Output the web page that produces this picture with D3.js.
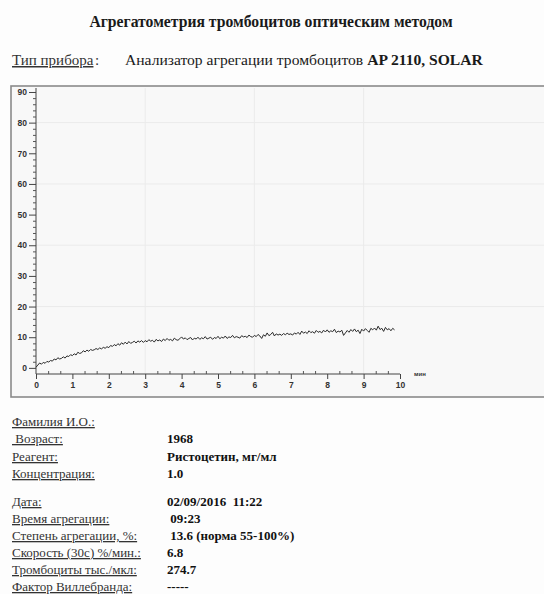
<!DOCTYPE html>
<html>
<head>
<meta charset="utf-8">
<script src="https://cdn.jsdelivr.net/npm/d3@7"></script>
<style>
  body { margin: 0; background: #fdfdfd; }
  svg { display: block; }
  .serif { font-family: "Liberation Serif", "DejaVu Serif", serif; }
  .tick-label { font-family: "Liberation Sans", Arial, sans-serif; font-weight: bold; font-size: 8.5px; fill: #333; }
</style>
</head>
<body>
<div id="chart"></div>
<script>
// 1: DATA
// aggregation curve, one sample every 0.05 min (3 s)
const sampleStep = 0.05;
const aggregation = [
  0.2, 0.9, 1.6, 1.2, 1.8, 1.5, 2.1, 1.9, 2.4, 2.2, 2.9, 2.6, 3.3, 2.9, 3.1, 3.6, 3.2, 3.9, 3.7, 4.3,
  4.0, 4.6, 4.2, 5.1, 4.7, 4.9, 5.6, 5.2, 5.8, 5.4, 6.0, 5.7, 5.9, 6.3, 6.0, 6.5, 6.2, 6.7, 6.4, 6.9,
  6.6, 7.3, 7.0, 7.6, 7.2, 7.9, 7.4, 8.2, 7.7, 8.4, 7.8, 8.6, 8.0, 8.3, 8.7, 8.1, 8.8, 8.4, 8.9, 8.3,
  8.9, 8.5, 9.2, 8.7, 9.0, 8.4, 9.3, 8.8, 9.1, 8.6, 9.4, 8.9, 9.6, 9.0, 9.3, 8.8, 9.7, 9.2, 9.0, 9.5,
  10.1, 9.4, 9.8, 9.2, 9.6, 9.9, 9.1, 9.7, 9.4, 10.0, 9.3, 9.8, 9.5, 10.2, 9.4, 9.7, 10.0, 9.3, 9.9, 9.6,
  10.3, 9.5, 10.0, 9.7, 10.4, 9.6, 10.1, 9.9, 10.6, 9.8, 10.2, 10.0, 9.7, 10.5, 10.1, 10.3, 9.9, 10.7, 10.2, 10.0,
  10.6, 10.2, 10.9, 10.4, 9.6, 10.8, 10.3, 11.4, 10.5, 10.9, 11.6, 10.4, 11.1, 10.7, 11.0, 10.6, 11.2, 10.8, 11.3, 10.9,
  11.1, 10.7, 11.4, 11.0, 11.6, 10.9, 12.0, 11.3, 11.7, 11.2, 12.1, 11.5, 11.8, 11.3, 12.2, 11.6, 11.9, 11.4, 12.3, 11.7,
  12.4, 11.6, 12.1, 11.8, 12.6, 11.5, 12.0, 11.7, 12.3, 10.6, 11.4, 12.2, 11.6, 12.5, 11.9, 12.7, 11.8, 12.3, 11.2, 12.6,
  12.0, 12.8, 12.2, 11.6, 12.9, 12.4, 13.0, 12.3, 13.6, 12.5, 12.9, 11.9, 13.2, 12.4, 12.8, 12.1, 12.9, 12.4
];
const yTicks = [0, 10, 20, 30, 40, 50, 60, 70, 80, 90];
const xTicks = [0, 1, 2, 3, 4, 5, 6, 7, 8, 9, 10];

const reportLabels = ["Фамилия И.О.:", " Возраст:", "Реагент:", "Концентрация:",
  "Дата:", "Время агрегации:", "Степень агрегации, %:", "Скорость (30с) %/мин.:",
  "Тромбоциты тыс./мкл:", "Фактор Виллебранда:"];
const reportValues = ["", "1968", "Ристоцетин, мг/мл", "1.0",
  "02/09/2016  11:22", " 09:23", " 13.6 (норма 55-100%)", "6.8", "274.7", "-----"];

// 2: SVG
const W = 544, H = 594;
const svg = d3.select("#chart").append("svg")
  .attr("width", W).attr("height", H);

svg.append("text")
  .attr("class", "serif")
  .attr("x", 271).attr("y", 27)
  .attr("text-anchor", "middle")
  .style("font-size", "15.7px").style("font-weight", "bold").style("fill", "#1a1a1a")
  .text("Агрегатометрия тромбоцитов оптическим методом");

svg.append("text")
  .attr("class", "serif")
  .attr("x", 12).attr("y", 65)
  .style("font-size", "15px").style("fill", "#333")
  .style("text-decoration", "underline")
  .text("Тип прибора");
svg.append("text")
  .attr("class", "serif")
  .attr("x", 95).attr("y", 65)
  .style("font-size", "15px").style("fill", "#333")
  .text(":");

const device = svg.append("text")
  .attr("class", "serif")
  .attr("x", 125).attr("y", 65)
  .style("font-size", "15.6px").style("fill", "#1a1a1a");
device.append("tspan").text("Анализатор агрегации тромбоцитов ");
device.append("tspan").style("font-weight", "bold").text("AP 2110, SOLAR");

// 3: CHART FRAME
svg.append("rect")
  .attr("x", 11).attr("y", 86)
  .attr("width", W).attr("height", 311)
  .attr("fill", "#f8f8f8")
  .attr("stroke", "#8a8a8a").attr("stroke-width", 1.6);

// 4: SCALES
const xScale = d3.scaleLinear().domain([0, 10]).range([36, 400]);
const yScale = d3.scaleLinear().domain([-2, 91.3]).range([374, 88]);

const plot = svg.append("g");

// faint grid
plot.selectAll(".hgrid")
  .data([20, 40, 60, 80])
  .enter().append("line")
  .attr("x1", xScale(0)).attr("x2", W)
  .attr("y1", d => yScale(d)).attr("y2", d => yScale(d))
  .attr("stroke", "#ebebeb").attr("stroke-width", 1);

plot.selectAll(".vgrid")
  .data([3, 6, 9])
  .enter().append("line")
  .attr("x1", d => xScale(d)).attr("x2", d => xScale(d))
  .attr("y1", yScale(91.3)).attr("y2", yScale(-2))
  .attr("stroke", "#ebebeb").attr("stroke-width", 1);

// 5: AXES
const yAxis = plot.append("g")
  .attr("transform", `translate(${xScale(0)},0)`)
  .call(d3.axisLeft(yScale).tickValues(yTicks).tickSize(7).tickPadding(2));
yAxis.select(".domain").attr("stroke", "#444").attr("d", `M0,${yScale(91.3)}V${yScale(-2)}`);
yAxis.selectAll(".tick line").attr("stroke", "#444");
yAxis.selectAll(".tick text").attr("class", "tick-label").attr("fill", null);

const yMinor = plot.append("g")
  .attr("transform", `translate(${xScale(0)},0)`)
  .call(d3.axisLeft(yScale).tickValues(d3.range(0, 91, 2).filter(v => v % 10 !== 0)).tickSize(3).tickFormat(""));
yMinor.select(".domain").remove();
yMinor.selectAll(".tick line").attr("stroke", "#555");

const xAxis = plot.append("g")
  .attr("transform", `translate(0,${yScale(-2)})`)
  .call(d3.axisBottom(xScale).tickValues(xTicks).tickSize(5).tickPadding(3));
xAxis.select(".domain").attr("stroke", "#444").attr("d", `M${xScale(0)},0H${xScale(10)}`);
xAxis.selectAll(".tick line").attr("stroke", "#444");
xAxis.selectAll(".tick text").attr("class", "tick-label").attr("fill", null);

const xMinorTicks = d3.range(0, 30).map(i => i / 3).filter((v, i) => i % 3 !== 0);
const xMinor = plot.append("g")
  .attr("transform", `translate(0,${yScale(-2)})`)
  .call(d3.axisTop(xScale).tickValues(xMinorTicks).tickSize(3).tickFormat(""));
xMinor.select(".domain").remove();
xMinor.selectAll(".tick line").attr("stroke", "#555");

plot.append("text")
  .attr("class", "tick-label")
  .attr("x", xScale(10) + 14).attr("y", yScale(-2) + 2)
  .style("font-size", "6px")
  .text("мин");

// 6: CURVE
const line = d3.line()
  .x((d, i) => xScale(i * sampleStep))
  .y(d => yScale(d));

plot.append("path")
  .datum(aggregation)
  .attr("d", line)
  .attr("fill", "none")
  .attr("stroke", "#2a2a2a")
  .attr("stroke-width", 1);

// 7: REPORT TEXT
const rowY = [426, 443, 461, 478, 506, 523, 540, 557, 574, 591];

svg.selectAll(".rep-label")
  .data(reportLabels)
  .enter().append("text")
  .attr("class", "serif")
  .attr("x", 12)
  .attr("y", (d, i) => rowY[i])
  .style("font-size", "13px").style("fill", "#333")
  .style("text-decoration", "underline")
  .style("white-space", "pre")
  .text(d => d);

svg.selectAll(".rep-value")
  .data(reportValues)
  .enter().append("text")
  .attr("class", "serif")
  .attr("x", 167)
  .attr("y", (d, i) => rowY[i])
  .style("font-size", "13px").style("font-weight", "bold").style("fill", "#111")
  .style("white-space", "pre")
  .text(d => d);
</script>
</body>
</html>
